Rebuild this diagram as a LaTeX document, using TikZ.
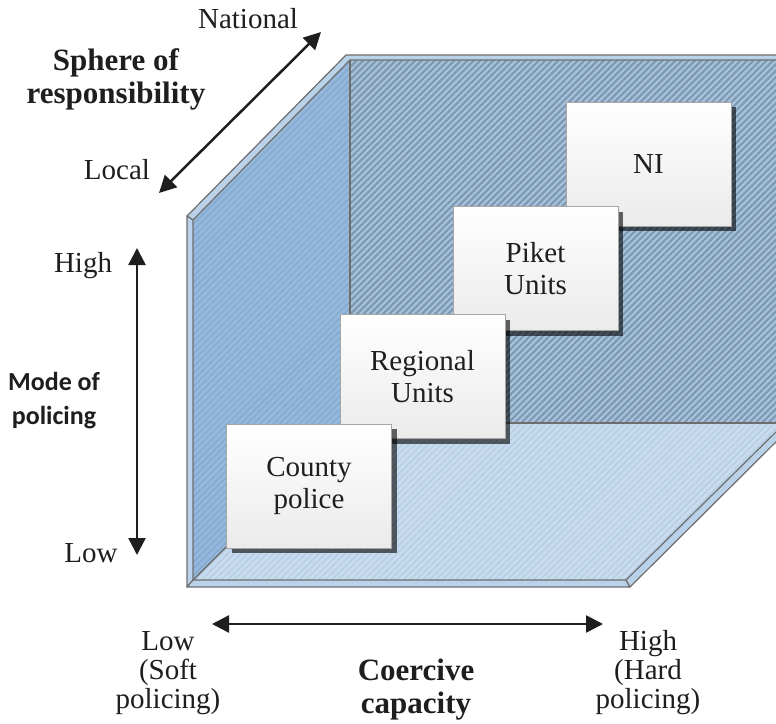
\documentclass[tikz,border=0pt]{standalone}
\usepackage{fontspec}
\setmainfont{Liberation Serif}
\newfontfamily\carlito{Carlito}
\usetikzlibrary{arrows.meta,patterns.meta,shadows}
\definecolor{leftwall}{HTML}{94B9DC}
\definecolor{leftstripe}{HTML}{86ABD0}
\definecolor{backwall}{HTML}{A7C4DF}
\definecolor{backstripe}{HTML}{7F99B0}
\definecolor{floorc}{HTML}{C8DCEE}
\definecolor{floorstripe}{HTML}{B7CFE6}
\definecolor{bandc}{HTML}{B9D1E9}
\definecolor{edgec}{HTML}{6E6E6E}
\definecolor{ink}{HTML}{1E1E1E}
\tikzset{
  band/.style={fill=bandc, draw=edgec, line width=1.2pt, line join=round},
  edge/.style={draw=edgec, line width=1.4pt},
  unitbox/.style={draw=gray!70, line width=0.8pt, top color=white, bottom color=black!8,
    minimum width=165pt, minimum height=124pt, align=center, text=ink,
    font=\fontsize{29}{31.5}\selectfont,
    drop shadow={shadow xshift=5pt, shadow yshift=-5pt, fill=black, opacity=0.6}},
  lbl/.style={align=center, text=ink, font=\fontsize{29}{29}\selectfont},
  ttl/.style={align=center, text=ink, font=\bfseries\fontsize{31}{33}\selectfont},
  sansttl/.style={align=center, text=ink, font=\carlito\bfseries\fontsize{26}{34}\selectfont},
  biarrow/.style={ink, line width=2.5pt, {Triangle[length=17pt,width=17pt]}-{Triangle[length=17pt,width=17pt]}}
}
\begin{document}
\begin{tikzpicture}[x=1pt,y=-1pt]
\useasboundingbox (0,0) rectangle (776,723);
\fill[white] (0,0) rectangle (776,723);
\begin{scope}
\clip (0,0) rectangle (776,723);
% back wall
\fill[backwall] (350,60) -- (795,60) -- (795,423) -- (350,423) -- cycle;
\fill[pattern={Lines[angle=45,distance=4.6pt,line width=2.2pt]}, pattern color=backstripe]
  (350,60) -- (795,60) -- (795,423) -- (350,423) -- cycle;
% left wall
\fill[leftwall] (193,220) -- (350,60) -- (350,423) -- (193,580) -- cycle;
\fill[pattern={Lines[angle=45,distance=4.6pt,line width=1.5pt]}, pattern color=leftstripe]
  (193,220) -- (350,60) -- (350,423) -- (193,580) -- cycle;
% floor
\fill[floorc] (193,580) -- (350,423) -- (785,423) -- (626,580) -- cycle;
\fill[pattern={Lines[angle=45,distance=4.6pt,line width=1.5pt]}, pattern color=floorstripe]
  (193,580) -- (350,423) -- (785,423) -- (626,580) -- cycle;
% inner edges
\draw[edge] (350,60) -- (350,423) -- (795,423);
\draw[edge] (193,580) -- (350,423);
% slab bands
\draw[band] (187,216) -- (346,55) -- (795,55) -- (795,60) -- (350,60) -- (193,220) -- cycle;
\draw[band] (187,216) -- (193,220) -- (193,580) -- (187,587) -- cycle;
\draw[band] (187,587) -- (193,580) -- (626,580) -- (630,587) -- cycle;
\draw[band] (626,580) -- (785,423) -- (791,427) -- (630,587) -- cycle;
\end{scope}
% unit boxes
\node[unitbox] (ni) at (648.5,164) {NI};
\node[unitbox] (piket) at (535.5,268.5) {Piket\\Units};
\node[unitbox] (regional) at (422.5,376.5) {Regional\\Units};
\node[unitbox] (county) at (309,486) {County\\police};
% sphere of responsibility
\node[lbl] (national) at (248,19) {National};
\node[ttl] (sphere) at (116,79) {Sphere of\\responsibility};
\node[lbl] (local) at (117,170) {Local};
\coordinate (sLo) at (159,193);
\coordinate (sHi) at (321,32);
\draw[biarrow] (sLo) -- (sHi);
% mode of policing
\node[lbl] (mhigh) at (83,266) {High};
\node[lbl] (mlow) at (91,553) {Low};
\node[sansttl] (mode) at (54,401) {Mode of\\policing};
\coordinate (mTop) at (137,248);
\coordinate (mBot) at (137,555);
\draw[biarrow] (mTop) -- (mBot);
% coercive capacity
\node[lbl] (clow) at (168,673) {Low\\(Soft\\policing)};
\node[lbl] (chigh) at (648,673) {High\\(Hard\\policing)};
\node[ttl] (coercive) at (416,690) {Coercive\\capacity};
\coordinate (cL) at (212,624);
\coordinate (cR) at (603,624);
\draw[biarrow] (cL) -- (cR);
\end{tikzpicture}
\end{document}
